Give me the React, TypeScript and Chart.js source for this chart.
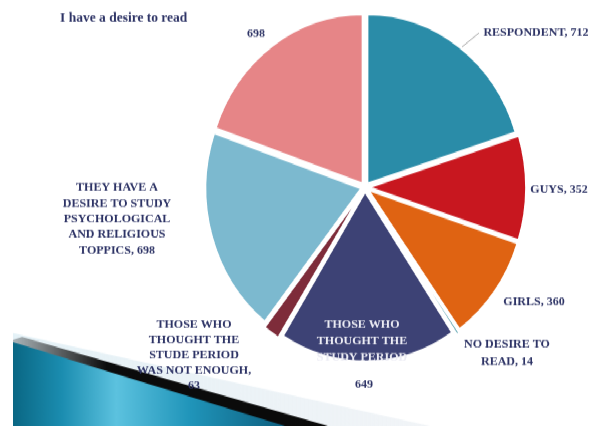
import React, { useEffect, useRef } from "react";
import { Chart, registerables } from "chart.js";

Chart.register(...registerables);

// ---------- data ----------
const chartTitle = "I have a desire to read";
const categories = [
  "RESPONDENT",
  "GUYS",
  "GIRLS",
  "NO DESIRE TO READ",
  "THOSE WHO THOUGHT THE STUDY PERIOD",
  "THOSE WHO THOUGHT THE STUDE PERIOD WAS NOT ENOUGH",
  "THEY HAVE A DESIRE TO STUDY PSYCHOLOGICAL AND RELIGIOUS TOPPICS",
  "",
];
const values = [712, 352, 360, 14, 649, 63, 698, 698];
const sliceColors = [
  "#2A8CA8",
  "#C8171F",
  "#DF6312",
  "#2E8B9A",
  "#3D4275",
  "#7E2C3A",
  "#7CB9CF",
  "#E68587",
];
const labelLines: string[][] = [
  ["RESPONDENT, " + values[0]],
  ["GUYS, " + values[1]],
  ["GIRLS, " + values[2]],
  ["NO DESIRE TO", "READ, " + values[3]],
  ["THOSE WHO", "THOUGHT THE", "STUDY PERIOD"],
  ["THOSE WHO", "THOUGHT THE", "STUDE PERIOD", "WAS NOT ENOUGH,", String(values[5])],
  ["THEY HAVE A", "DESIRE TO STUDY", "PSYCHOLOGICAL", "AND RELIGIOUS", "TOPPICS, " + values[6]],
  [String(values[7])],
];
const extraLabel = String(values[4]);

// ---------- layout (screen pixels) ----------
const W = 601;
const H_SCREEN = 426;
const K = 1.0895; // vertical stretch of the reference picture
const H = Math.round(H_SCREEN / K);
const TEXT = "#2E3466";
const labelLayout = [
  { x: 536, y: 33, lh: 16, color: TEXT },
  { x: 559, y: 190, lh: 16, color: TEXT },
  { x: 534, y: 302, lh: 16, color: TEXT },
  { x: 507, y: 345, lh: 17, color: TEXT },
  { x: 362, y: 325, lh: 16, color: "#ECECF4" },
  { x: 194, y: 325, lh: 15.3, color: TEXT },
  { x: 117, y: 188, lh: 15.6, color: TEXT },
  { x: 256, y: 34, lh: 16, color: TEXT },
];
const extraLayout = { x: 364, y: 385 };
const pieArea = { cx: 365, cy: 172, size: 329 };

const decorPlugin = {
  id: "decor",
  beforeDatasetsDraw(chart: any) {
    const ctx = chart.ctx as CanvasRenderingContext2D;
    ctx.save();
    ctx.scale(1, 1 / K);
    // pale ribbon
    let g = ctx.createLinearGradient(13, 0, 430, 0);
    g.addColorStop(0, "rgba(225,240,246,0.9)");
    g.addColorStop(1, "rgba(228,234,240,0.5)");
    ctx.fillStyle = g;
    ctx.beginPath();
    ctx.moveTo(13, 333);
    ctx.lineTo(430, 426);
    ctx.lineTo(13, 426);
    ctx.closePath();
    ctx.fill();
    // black shadow
    g = ctx.createLinearGradient(13, 0, 325, 0);
    g.addColorStop(0, "rgba(0,0,0,0.25)");
    g.addColorStop(0.3, "rgba(0,0,0,0.95)");
    g.addColorStop(1, "rgba(10,10,10,1)");
    ctx.fillStyle = g;
    ctx.beginPath();
    ctx.moveTo(22, 337);
    ctx.lineTo(328, 426);
    ctx.lineTo(13, 426);
    ctx.lineTo(13, 340);
    ctx.closePath();
    ctx.fill();
    // blue body
    g = ctx.createLinearGradient(13, 0, 285, 0);
    g.addColorStop(0, "#0A6784");
    g.addColorStop(0.18, "#1B8DB0");
    g.addColorStop(0.38, "#5CC2DF");
    g.addColorStop(0.65, "#2095BA");
    g.addColorStop(1, "#0D5E7E");
    ctx.fillStyle = g;
    ctx.beginPath();
    ctx.moveTo(13, 342);
    ctx.lineTo(285, 426);
    ctx.lineTo(13, 426);
    ctx.closePath();
    ctx.fill();
    ctx.restore();
  },
  afterDraw(chart: any) {
    const ctx = chart.ctx as CanvasRenderingContext2D;
    ctx.save();
    ctx.scale(1, 1 / K);
    // title
    ctx.fillStyle = TEXT;
    ctx.font = "bold 13.5px 'Liberation Serif'";
    ctx.textAlign = "left";
    ctx.textBaseline = "middle";
    ctx.fillText(chartTitle, 60, 18);
    // leader line for respondent
    ctx.strokeStyle = "#A8A8A8";
    ctx.lineWidth = 1;
    ctx.beginPath();
    ctx.moveTo(462, 47);
    ctx.lineTo(479, 33);
    ctx.stroke();
    // labels
    ctx.font = "bold 12px 'Liberation Serif'";
    ctx.textAlign = "center";
    labelLines.forEach((lines, i) => {
      const L = labelLayout[i];
      ctx.fillStyle = L.color;
      lines.forEach((t, j) => ctx.fillText(t, L.x, L.y + j * L.lh));
    });
    ctx.fillStyle = TEXT;
    ctx.fillText(extraLabel, extraLayout.x, extraLayout.y);
    ctx.restore();
  },
};

export default function App() {
  const ref = useRef<HTMLCanvasElement | null>(null);
  useEffect(() => {
    if (!ref.current) return;
    const half = pieArea.size / 2;
    const chart = new Chart(ref.current, {
      type: "pie",
      data: {
        labels: categories,
        datasets: [
          {
            data: values,
            backgroundColor: sliceColors,
            borderColor: "#ffffff",
            borderWidth: 2,
            offset: 16,
          },
        ],
      },
      options: {
        responsive: false,
        animation: false,
        layout: {
          padding: {
            left: pieArea.cx - half,
            right: W - (pieArea.cx + half),
            top: pieArea.cy - half,
            bottom: H - (pieArea.cy + half),
          },
        },
        plugins: {
          legend: { display: false },
          title: { display: false },
          tooltip: { enabled: false },
        },
      },
      plugins: [decorPlugin],
    });
    return () => chart.destroy();
  }, []);
  return (
    <div
      style={{
        position: "fixed",
        left: 0,
        top: 0,
        width: W,
        height: H,
        background: "#ffffff",
        transform: `scaleY(${K})`,
        transformOrigin: "0 0",
      }}
    >
      <canvas ref={ref} width={W} height={H} style={{ width: W, height: H, display: "block" }} />
    </div>
  );
}
